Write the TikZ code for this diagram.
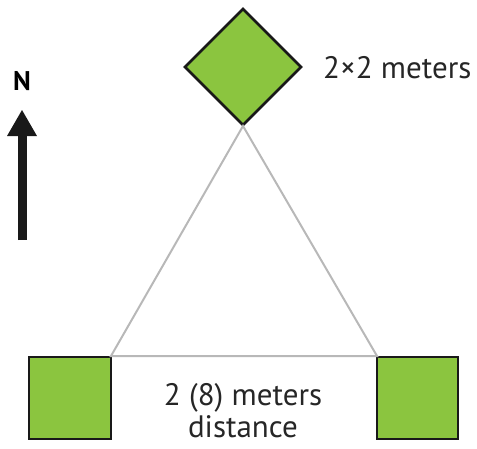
\documentclass[tikz,border=0pt]{standalone}
\usepackage{fontspec}
\setmainfont{PT Sans}
\definecolor{plotgreen}{HTML}{8BC53F}
\tikzset{
  plot/.style={fill=plotgreen, draw=black!90, line width=2.8pt},
  edge/.style={draw=black!28, line width=2pt},
  label/.style={font=\fontsize{31}{38}\selectfont, text=black!85, inner sep=0pt}
}
\begin{document}
\begin{tikzpicture}[x=1pt, y=-1pt]
  \useasboundingbox (0,0) rectangle (477,448);
  % plots: the northern one turned 45 degrees, two squares to the south
  \draw[plot] (243,9) -- (301,67) -- (243,125) -- (185,67) -- cycle;
  \coordinate (top) at (243,126);
  \draw[plot] (29,357) rectangle (111,439);
  \draw[plot] (377,357) rectangle (458,439);
  \coordinate (left) at (111,356);
  \coordinate (right) at (377,356);
  % triangle linking the three plots
  \draw[edge, line join=miter] (top) -- (left) -- (right) -- cycle;
  % labels
  \node[label, anchor=base west] (size) at (323,78) {2×2 meters};
  \node[label, anchor=base] (dist) at (243,405) {2 (8) meters};
  \node[label, anchor=base] (dist2) at (243,437) {distance};
  % north arrow
  \node[font=\fontsize{27}{27}\selectfont\bfseries, inner sep=0pt, anchor=base] (north) at (22,90) {N};
  \coordinate (tail) at (22,240);
  \coordinate (head) at (22,110);
  \draw[line width=9pt, black!90] (tail) -- (22,132);
  \fill[black!90] (head) -- (37,136) -- (7,136) -- cycle;
\end{tikzpicture}
\end{document}
